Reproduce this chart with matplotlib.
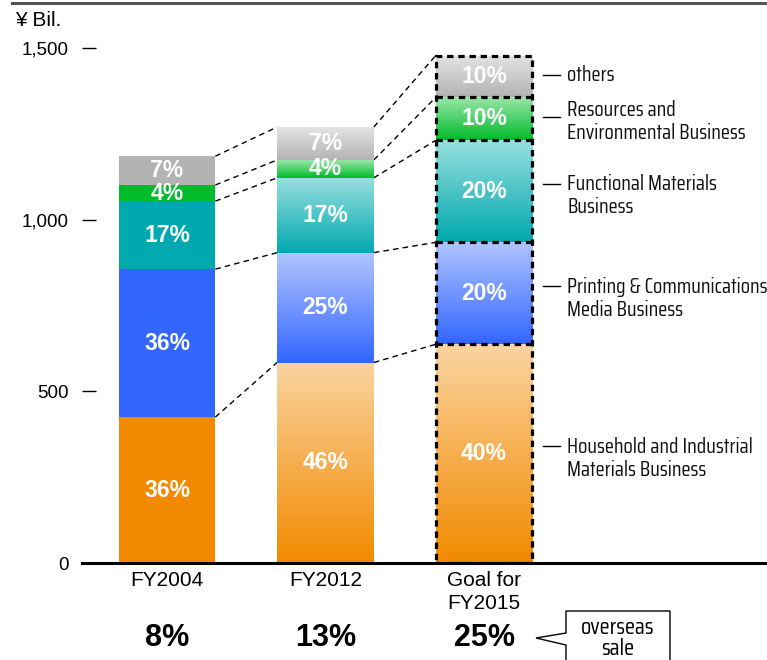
import numpy as np
import matplotlib.pyplot as plt
from matplotlib import font_manager
from matplotlib.colors import to_rgb
from matplotlib.lines import Line2D
from matplotlib.patches import Polygon
from matplotlib.textpath import TextPath

# Data (¥ billion)
years = ['FY2004', 'FY2012', 'Goal for\nFY2015']
segments = ['Household and Industrial\nMaterials Business',
            'Printing & Communications\nMedia Business',
            'Functional Materials\nBusiness',
            'Resources and\nEnvironmental Business',
            'others']
fy2004 = [425, 431, 198, 47, 84]
fy2012 = [584, 320, 218, 52, 96]
fy2015 = [637, 297, 297, 125, 122]
shares = [[36, 36, 17, 4, 7], [46, 25, 17, 4, 7], [40, 20, 20, 10, 10]]
overseas = ['8%', '13%', '25%']

solid = ['#f28a00', '#3366ff', '#00a9ae', '#00bb2a', '#b3b3b3']
light = ['#fad4a0', '#b0c4ff', '#98dfdf', '#9ae6a8', '#e4e4e4']

plain = ['Liberation Sans', 'DejaVu Sans']

# side labels use a condensed face; pick the one whose proportions are closest
cands = [font_manager.FontProperties(family='Roboto')]
for f in font_manager.fontManager.ttflist:
    nm = f.name + ' ' + f.fname
    if (('Narrow' in nm or 'Condensed' in nm or f.stretch in ('condensed', 'semi-condensed'))
            and f.style == 'normal' and f.weight in (400, 'normal', 'regular')
            and 'Mono' not in nm):
        cands.append(font_manager.FontProperties(fname=f.fname))


def em_width(fp, s):
    try:
        return TextPath((0, 0), s, size=1, prop=fp).get_extents().width
    except Exception:
        return 1e9


widest_line = 'Printing & Communications'
narrow_fp = min(cands, key=lambda fp: abs(em_width(fp, widest_line) - 9.4))
px_per_pt = 100 / 72
side_size = 198 / (em_width(narrow_fp, widest_line) * px_per_pt)
call_size = min(74 / (em_width(narrow_fp, 'overseas') * px_per_pt), side_size * 1.1)

fig = plt.figure(figsize=(7.67, 6.6), dpi=100)
ax = fig.add_axes([82 / 767, 97 / 660, 685 / 767, 549.3 / 660])

w = 0.61
data = [fy2004, fy2012, fy2015]
x = np.arange(len(years))

for i, vals in enumerate(data):
    bottoms = np.concatenate([[0], np.cumsum(vals)[:-1]])
    for j, (v, b) in enumerate(zip(vals, bottoms)):
        if i == 0:
            ax.bar(x[i], v, w, bottom=b, color=solid[j], zorder=2)
        else:
            bar = ax.bar(x[i], v, w, bottom=b, color='none', zorder=2)[0]
            ramp = np.linspace(to_rgb(light[j]), to_rgb(solid[j]), 128)[:, None, :]
            im = ax.imshow(ramp, extent=[x[i] - w / 2, x[i] + w / 2, b, b + v],
                           aspect='auto', zorder=2, interpolation='bilinear')
            im.set_clip_path(bar)
        ax.text(x[i], b + v / 2, f'{shares[i][j]}%', ha='center', va='center',
                color='white', fontsize=16.5, fontweight='bold', family=plain, zorder=4)

# dashed outline of the goal bar
dash = (0, (2, 1.5))
ax.bar(x[2], sum(fy2015), w, fill=False, edgecolor='black', linewidth=2.3,
       linestyle=dash, zorder=3)
ax.hlines(np.cumsum(fy2015)[:-1], x[2] - w / 2, x[2] + w / 2, colors='black',
          linewidth=2.3, linestyles=[dash], zorder=3)

# dashed connectors between bars
for i in range(len(data) - 1):
    c0 = np.cumsum(data[i])
    c1 = np.cumsum(data[i + 1])
    for a, b in zip(c0, c1):
        ax.plot([x[i] + w / 2, x[i + 1] - w / 2], [a, b], color='black',
                lw=1, ls=(0, (4, 3)), zorder=1)

# segment labels on the right of the goal bar
dash_y = [340, 806, 1103, 1298, 1420]
text_y = [305, 771, 1071, 1286, 1420]
for lab, dy, ty in zip(segments, dash_y, text_y):
    ax.plot([2.372, 2.48], [dy, dy], color='black', lw=1, zorder=1)
    ax.text(2.524, ty, lab, ha='left', va='center', fontproperties=narrow_fp,
            fontsize=side_size, linespacing=1.18, color='#111111')

ax.set_xlim(-0.536, 3.785)
ax.set_ylim(0, 1600)
ax.set_yticks([0, 500, 1000, 1500])
ax.set_yticklabels(['0', '500', '1,000', '1,500'], family=plain, fontsize=13.5)
ax.tick_params(axis='y', direction='in', length=10, width=1, pad=9.5, color='black')
ax.set_xticks(x)
ax.set_xticklabels(years, family=plain, fontsize=15, linespacing=1.25)
ax.tick_params(axis='x', length=0, pad=6)
for s in ['left', 'right', 'top']:
    ax.spines[s].set_visible(False)
ax.spines['bottom'].set_linewidth(2.2)

# overseas sales ratio row
row_y = (660 - 638 - 97) / 549.3
for xi, t in zip(x, overseas):
    ax.text(xi, row_y, t, transform=ax.get_xaxis_transform(), ha='center', va='center',
            fontsize=22, fontweight='bold', family=plain, clip_on=False)

# callout box
pts = [(566, 611), (670, 611), (670, 665), (566, 665), (566, 645), (536, 638), (566, 633)]
fig.add_artist(Polygon([(px / 767, 1 - py / 660) for px, py in pts], closed=True,
                       facecolor='white', edgecolor='black', lw=1,
                       transform=fig.transFigure))
fig.text(618 / 767, 1 - 638 / 660, 'overseas\nsale', ha='center', va='center',
         fontproperties=narrow_fp, fontsize=call_size, linespacing=1.0)

fig.text(15 / 767, 1 - 20 / 660, '¥ Bil.', ha='left', va='center', fontsize=15, family=plain)
fig.add_artist(Line2D([12 / 767, 1], [1 - 3 / 660] * 2, color='#555555', lw=2.2))

fig.savefig('out.png', dpi=100)
